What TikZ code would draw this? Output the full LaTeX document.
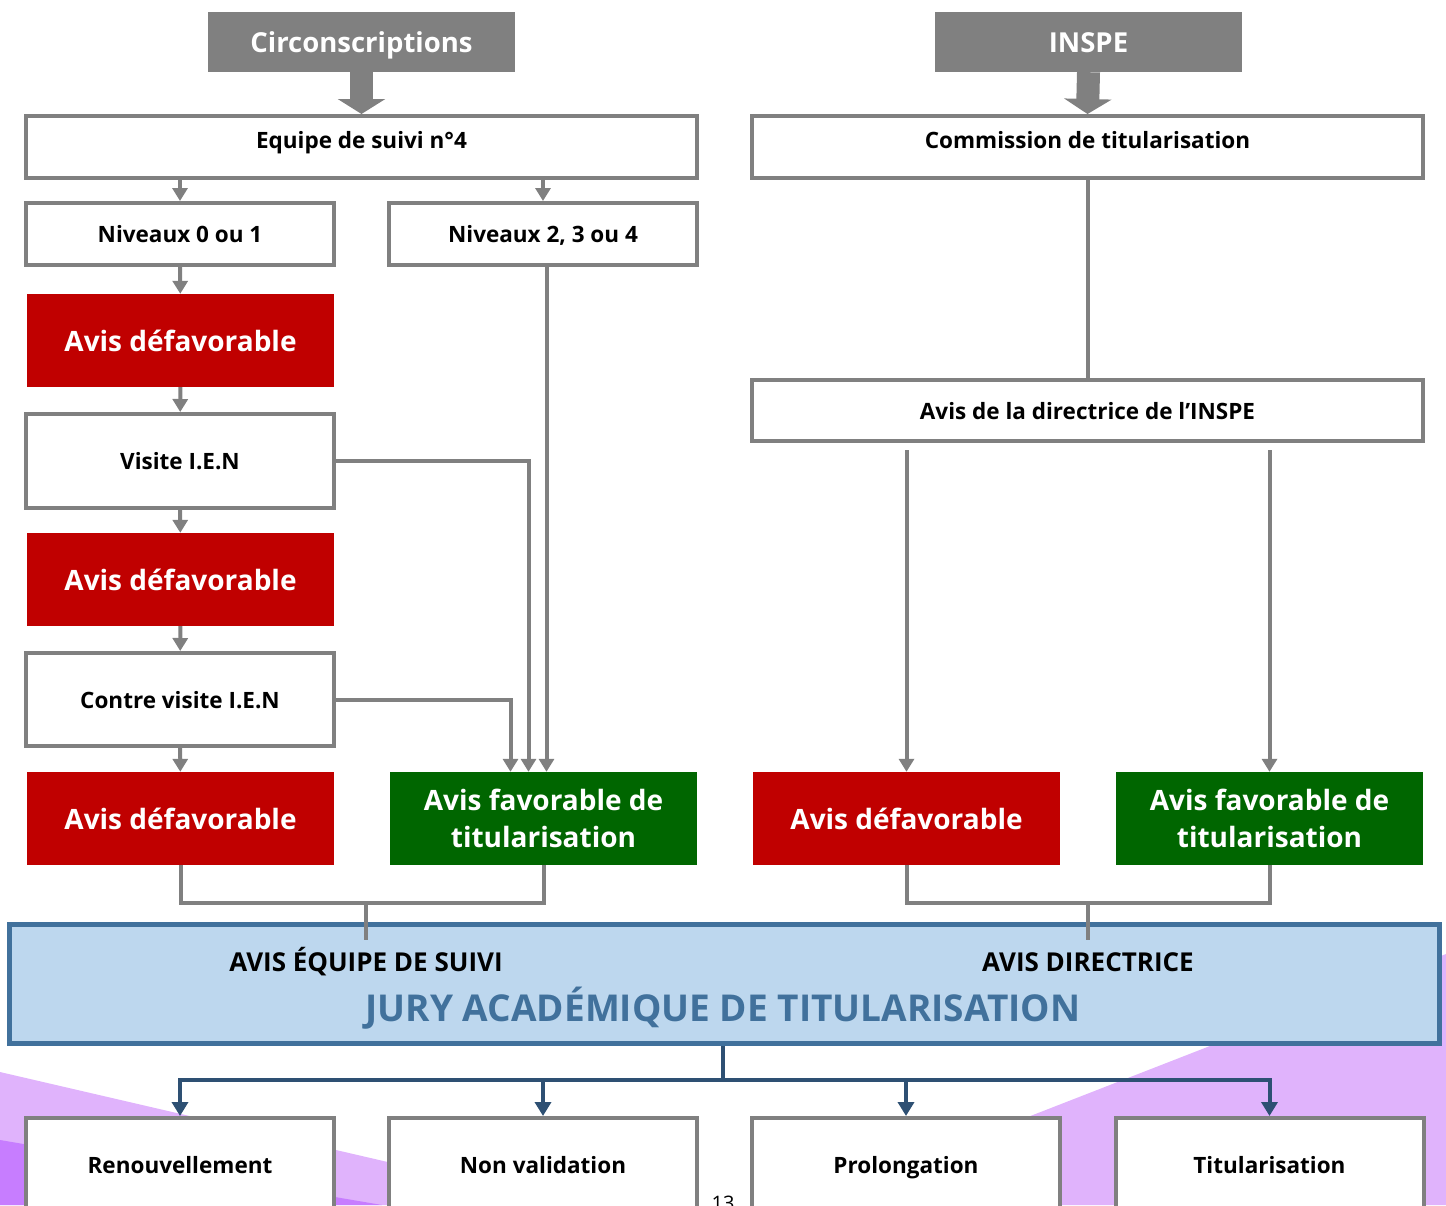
\documentclass[tikz,border=0pt]{standalone}
\usepackage{fontspec}
\setmainfont{Open Sans}
\usepackage{tikz}
\usetikzlibrary{arrows.meta, calc}

\definecolor{boxgray}{HTML}{808080}
\definecolor{avisred}{HTML}{C00000}
\definecolor{avisgreen}{HTML}{006600}
\definecolor{juryfill}{HTML}{BDD7EE}
\definecolor{juryline}{HTML}{41719C}
\definecolor{jurylink}{HTML}{2E5073}
\definecolor{lilac}{HTML}{E0B3FC}
\definecolor{deeplilac}{HTML}{C77DFF}

\begin{document}
\begin{tikzpicture}[x=1pt, y=-1pt,
    outline/.style={draw=boxgray, line width=4pt, fill=white, inner sep=0pt, minimum width=308pt, minimum height=62pt, text height=19pt, text depth=2pt, font=\bfseries\fontsize{22.5}{26}\selectfont},
    wide/.style={outline, minimum width=671pt},
    raised/.style={text height=16pt, text depth=14pt},
    header/.style={fill=boxgray, text=white, inner sep=0pt, minimum width=307pt, minimum height=60pt, text height=23pt, text depth=3pt, font=\bfseries\fontsize{27.5}{34}\selectfont},
    verdict/.style={text=white, inner sep=0pt, align=center, minimum width=307pt, minimum height=93pt, font=\bfseries\fontsize{28}{37}\selectfont},
    redbox/.style={verdict, fill=avisred, text height=24pt, text depth=2pt},
    greenbox/.style={verdict, fill=avisgreen},
    juryhead/.style={font=\bfseries\fontsize{26}{30}\selectfont},
    link/.style={draw=boxgray, line width=4pt},
    linkarr/.style={link, -{Triangle[width=15pt,length=13pt]}},
    bigarrow/.style={draw=boxgray, line width=23pt, -{Triangle[width=47pt,length=15pt]}},
    jurylinks/.style={draw=jurylink, line width=4pt},
    juryarr/.style={jurylinks, -{Triangle[width=16pt,length=14pt]}}]
             \clip (0,0) rectangle (1446,1205);
             \fill[lilac] (0,1072) -- (573,1205) -- (0,1205) -- cycle;
             \fill[deeplilac] (0,1140) -- (382,1205) -- (0,1205) -- cycle;
             \fill[lilac] (802,1205) -- (1446,954) -- (1446,1205) -- cycle;

             \node[header] (circ) at (361.5,42) {Circonscriptions};
             \node[header] (inspe) at (1088.5,42) {INSPE};
             \node[wide, raised] (equipe) at (361.5,147) {Equipe de suivi n°4};
             \node[wide, raised] (commission) at (1087.5,147) {Commission de titularisation};
             \draw[bigarrow] (circ.south) -- (equipe.north);
             \draw[bigarrow] (inspe.south) -- (commission.north);

             \node[outline] (niv01) at (180,234) {Niveaux 0 ou 1};
             \node[outline] (niv234) at (543,234) {Niveaux 2, 3 ou 4};
             \node[redbox] (defA) at (180.5,340.5) {Avis défavorable};
             \node[outline, minimum height=94pt] (visite) at (180,461) {Visite I.E.N};
             \node[redbox] (defB) at (180.5,579.5) {Avis défavorable};
             \node[outline, minimum height=93pt] (contre) at (180,699.5) {Contre visite I.E.N};
             \node[redbox] (defC) at (180.5,818.5) {Avis défavorable};
             \node[greenbox] (favL) at (543.5,818.5) {Avis favorable de\\titularisation};

             \node[wide, minimum height=61pt] (directrice) at (1087.5,410.5) {Avis de la directrice de l’INSPE};
             \node[redbox] (defR) at (906.5,818.5) {Avis défavorable};
             \node[greenbox] (favR) at (1269.5,818.5) {Avis favorable de\\titularisation};

             \draw[linkarr] (equipe.south -| niv01.north) -- (niv01.north);
             \draw[linkarr] (equipe.south -| niv234.north) -- (niv234.north);
             \draw[linkarr] (niv01) -- (defA);
             \draw[linkarr] (defA) -- (visite);
             \draw[linkarr] (visite) -- (defB);
             \draw[linkarr] (defB) -- (contre);
             \draw[linkarr] (contre) -- (defC);
             \draw[linkarr] (visite.east) -| ([xshift=-15pt]favL.north);
             \draw[linkarr] (contre.east) -| ([xshift=-33pt]favL.north);
             \draw[linkarr] ([xshift=3pt]favL.north |- niv234.south) -- ([xshift=3pt]favL.north);
             \draw[link] (commission) -- (directrice);
             \draw[linkarr] ($(directrice.south -| defR.north)+(0,7)$) -- (defR.north);
             \draw[linkarr] ($(directrice.south -| favR.north)+(0,7)$) -- (favR.north);

             \node[draw=juryline, line width=5pt, fill=juryfill, minimum width=1430pt, minimum height=119pt] (jury) at (724,983.5) {};
             \node[juryhead] (avisequipe) at (366,962) {AVIS ÉQUIPE DE SUIVI};
             \node[juryhead] (avisdir) at (1088,962) {AVIS DIRECTRICE};
             \node[text=juryline, font=\bfseries\fontsize{37}{42}\selectfont] (jurytitle) at (723,1008) {JURY ACADÉMIQUE DE TITULARISATION};

             \coordinate (jointL) at (366,903);
             \coordinate (jointR) at (1088,903);
             \draw[link] (defC.south) |- (jointL) -| (favL.south);
             \draw[link] (defR.south) |- (jointR) -| (favR.south);
             \draw[link] (jointL) -- (jointL |- 0,940);
             \draw[link] (jointR) -- (jointR |- 0,940);

             \node[outline, minimum height=94pt] (renouv) at (180,1165) {Renouvellement};
             \node[outline, minimum height=94pt] (nonvalid) at (543,1165) {Non validation};
             \node[outline, minimum height=94pt] (prolong) at (906,1165) {Prolongation};
             \node[outline, minimum height=94pt] (titul) at (1269.5,1165) {Titularisation};
             \node[font=\fontsize{20}{24}\selectfont] (pagenum) at (723,1203) {13};

             \coordinate (split) at (723,1080);
             \draw[jurylinks] (split |- jury.south) -- (split);
             \draw[juryarr] (split) -| (renouv.north);
             \draw[juryarr] (split) -| (nonvalid.north);
             \draw[juryarr] (split) -| (prolong.north);
             \draw[juryarr] (split) -| (titul.north);
\end{tikzpicture}
\end{document}
